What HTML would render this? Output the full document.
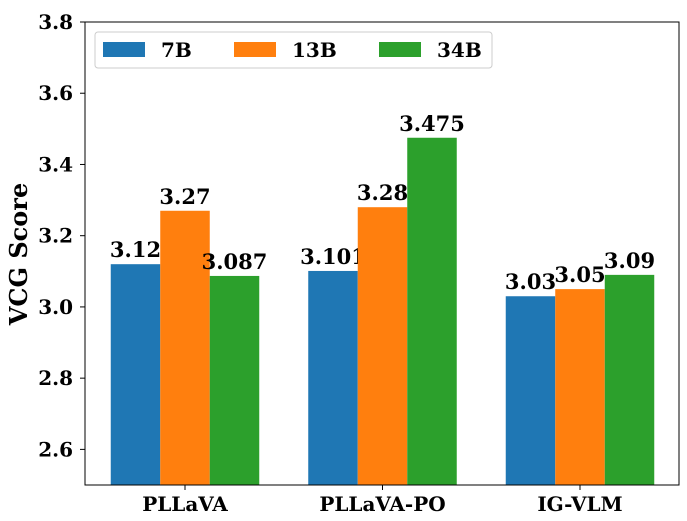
<!DOCTYPE html>
<html><head><meta charset="utf-8"><style>
body{margin:0;background:#fff}
svg text{font-family:"DejaVu Serif","Liberation Serif",serif;font-weight:bold}
</style></head><body>
<svg id="c" width="687" height="516" xmlns="http://www.w3.org/2000/svg"></svg>
<script>
const categories=["PLLaVA","PLLaVA-PO","IG-VLM"];
const series=["7B","13B","34B"];
const colors=["#1f77b4","#ff7f0e","#2ca02c"];
const v7B=[3.12,3.101,3.03];
const v13B=[3.27,3.28,3.05];
const v34B=[3.087,3.475,3.09];
const labels7B=["3.12","3.101","3.03"];
const labels13B=["3.27","3.28","3.05"];
const labels34B=["3.087","3.475","3.09"];
const yTicks=[2.6,2.8,3.0,3.2,3.4,3.6,3.8];
const values=[v7B,v13B,v34B], labels=[labels7B,labels13B,labels34B];
const L=85,R=679,T=22,B=485,yMin=2.5,yMax=3.8;
const y=v=>B-(v-yMin)/(yMax-yMin)*(B-T);
const cx=i=>185+i*197.5;
const bw=49.5;
const svg=document.getElementById('c');
const NS="http://www.w3.org/2000/svg";
function mk(t,a,txt){const e=document.createElementNS(NS,t);for(const k in a)e.setAttribute(k,a[k]);if(txt!=null)e.textContent=txt;svg.appendChild(e);return e;}
values.forEach((arr,s)=>arr.forEach((v,i)=>{
 const x=cx(i)+(s-1.5)*bw;
 const r=mk('rect',{x:x,y:y(v),width:bw,height:B-y(v),fill:colors[s]});
 
 
 const t=mk('text',{x:x+bw/2,y:y(v)-7,'text-anchor':'middle','font-size':21},labels[s][i]);
 
 
}));
const ax=mk('rect',{x:L,y:T,width:R-L,height:B-T,fill:'none',stroke:'#000','stroke-width':1});


yTicks.forEach(v=>{
 mk('line',{x1:L-5,x2:L,y1:y(v),y2:y(v),stroke:'#000'});
 const t=mk('text',{x:L-12,y:y(v)+7,'text-anchor':'end','font-size':20},v.toFixed(1));
 
 
});
categories.forEach((c,i)=>{
 mk('line',{x1:cx(i),x2:cx(i),y1:B,y2:B+5,stroke:'#000'});
 const t=mk('text',{x:cx(i),y:B+26,'text-anchor':'middle','font-size':20},c);
 
 
});
const yt=mk('text',{x:0,y:0,'text-anchor':'middle','font-size':24,transform:'translate(27,254) rotate(-90)'},'VCG Score');


const lg=mk('rect',{x:95,y:32,width:397,height:36,rx:3,fill:'#fff',stroke:'#ccc'});


const px=[103,234,379];
series.forEach((s,k)=>{
 mk('rect',{x:px[k],y:42,width:42,height:15,fill:colors[k]});
 const t=mk('text',{x:px[k]+58,y:57,'font-size':20},s);
 
 
});
</script>
</body></html>
